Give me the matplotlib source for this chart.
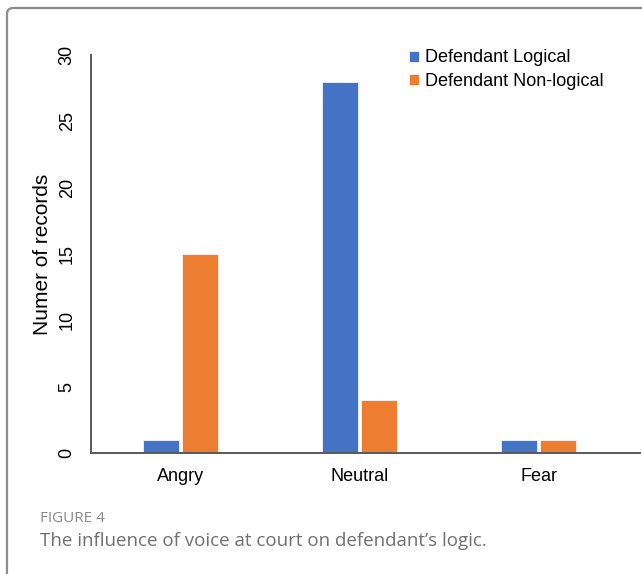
import matplotlib.pyplot as plt
import numpy as np
from matplotlib.patches import FancyBboxPatch

plt.rcParams["font.family"] = ["Liberation Sans", "DejaVu Sans"]

categories = ["Angry", "Neutral", "Fear"]
series_names = ["Defendant Logical", "Defendant Non-logical"]
logical = [1, 28, 1]
non_logical = [15, 4, 1]
y_ticks = [0, 5, 10, 15, 20, 25, 30]

colors = ["#4472C4", "#ED7D31"]

fig = plt.figure(figsize=(6.42, 5.74), dpi=100)
W, H = 642, 574

# outer card frame, open to the right and bottom
frame = FancyBboxPatch((7 / W, -0.2), 1.2, 1.2 - 8 / H,
                       boxstyle="round,pad=0,rounding_size=0.01",
                       transform=fig.transFigure, fill=False,
                       edgecolor="#8c8c8c", linewidth=1.6)
fig.patches.append(frame)

# one category slot is ~179 px wide, axis runs a little past the last slot
ax = fig.add_axes([91 / W, 1 - 453 / H, 549 / W, 398 / H])

x = np.arange(len(categories))
width = 0.2
off = 0.109
ax.bar(x - off, logical, width, color=colors[0], label=series_names[0],
       edgecolor="white", linewidth=0.5)
ax.bar(x + off, non_logical, width, color=colors[1], label=series_names[1],
       edgecolor="white", linewidth=0.5)

ax.set_xlim(-0.5, 2.5 + 12 / 179)
ax.set_ylim(0, 30)
ax.set_xticks(x)
ax.set_xticklabels(categories, fontsize=13)
ax.set_yticks(y_ticks)
ax.set_yticklabels([str(t) for t in y_ticks], fontsize=13, rotation=90, va="center")
ax.tick_params(axis="both", length=0)
ax.tick_params(axis="x", pad=11)
ax.tick_params(axis="y", pad=11)

for side in ["top", "right"]:
    ax.spines[side].set_visible(False)
for side in ["left", "bottom"]:
    ax.spines[side].set_color("#595959")
    ax.spines[side].set_linewidth(1.4)

ax.set_ylabel("Numer of records", fontsize=15)
ax.yaxis.set_label_coords(-0.071, 0.5)

ax.legend(loc="upper left", bbox_to_anchor=(311 / 549, 1.032), frameon=False,
          fontsize=13, handlelength=0.55, handleheight=0.55, handletextpad=0.35,
          labelspacing=0.35, borderaxespad=0)

fig.text(40 / W, 1 - 518 / H, "FIGURE 4", fontsize=11, color="#8a8a8a",
         family=["Open Sans", "DejaVu Sans"], va="center", ha="left")
fig.text(40 / W, 1 - 541 / H, "The influence of voice at court on defendant\u2019s logic.",
         fontsize=13.5, color="#707070", family=["Open Sans", "DejaVu Sans"],
         va="center", ha="left")

fig.savefig("out.png", dpi=100)
